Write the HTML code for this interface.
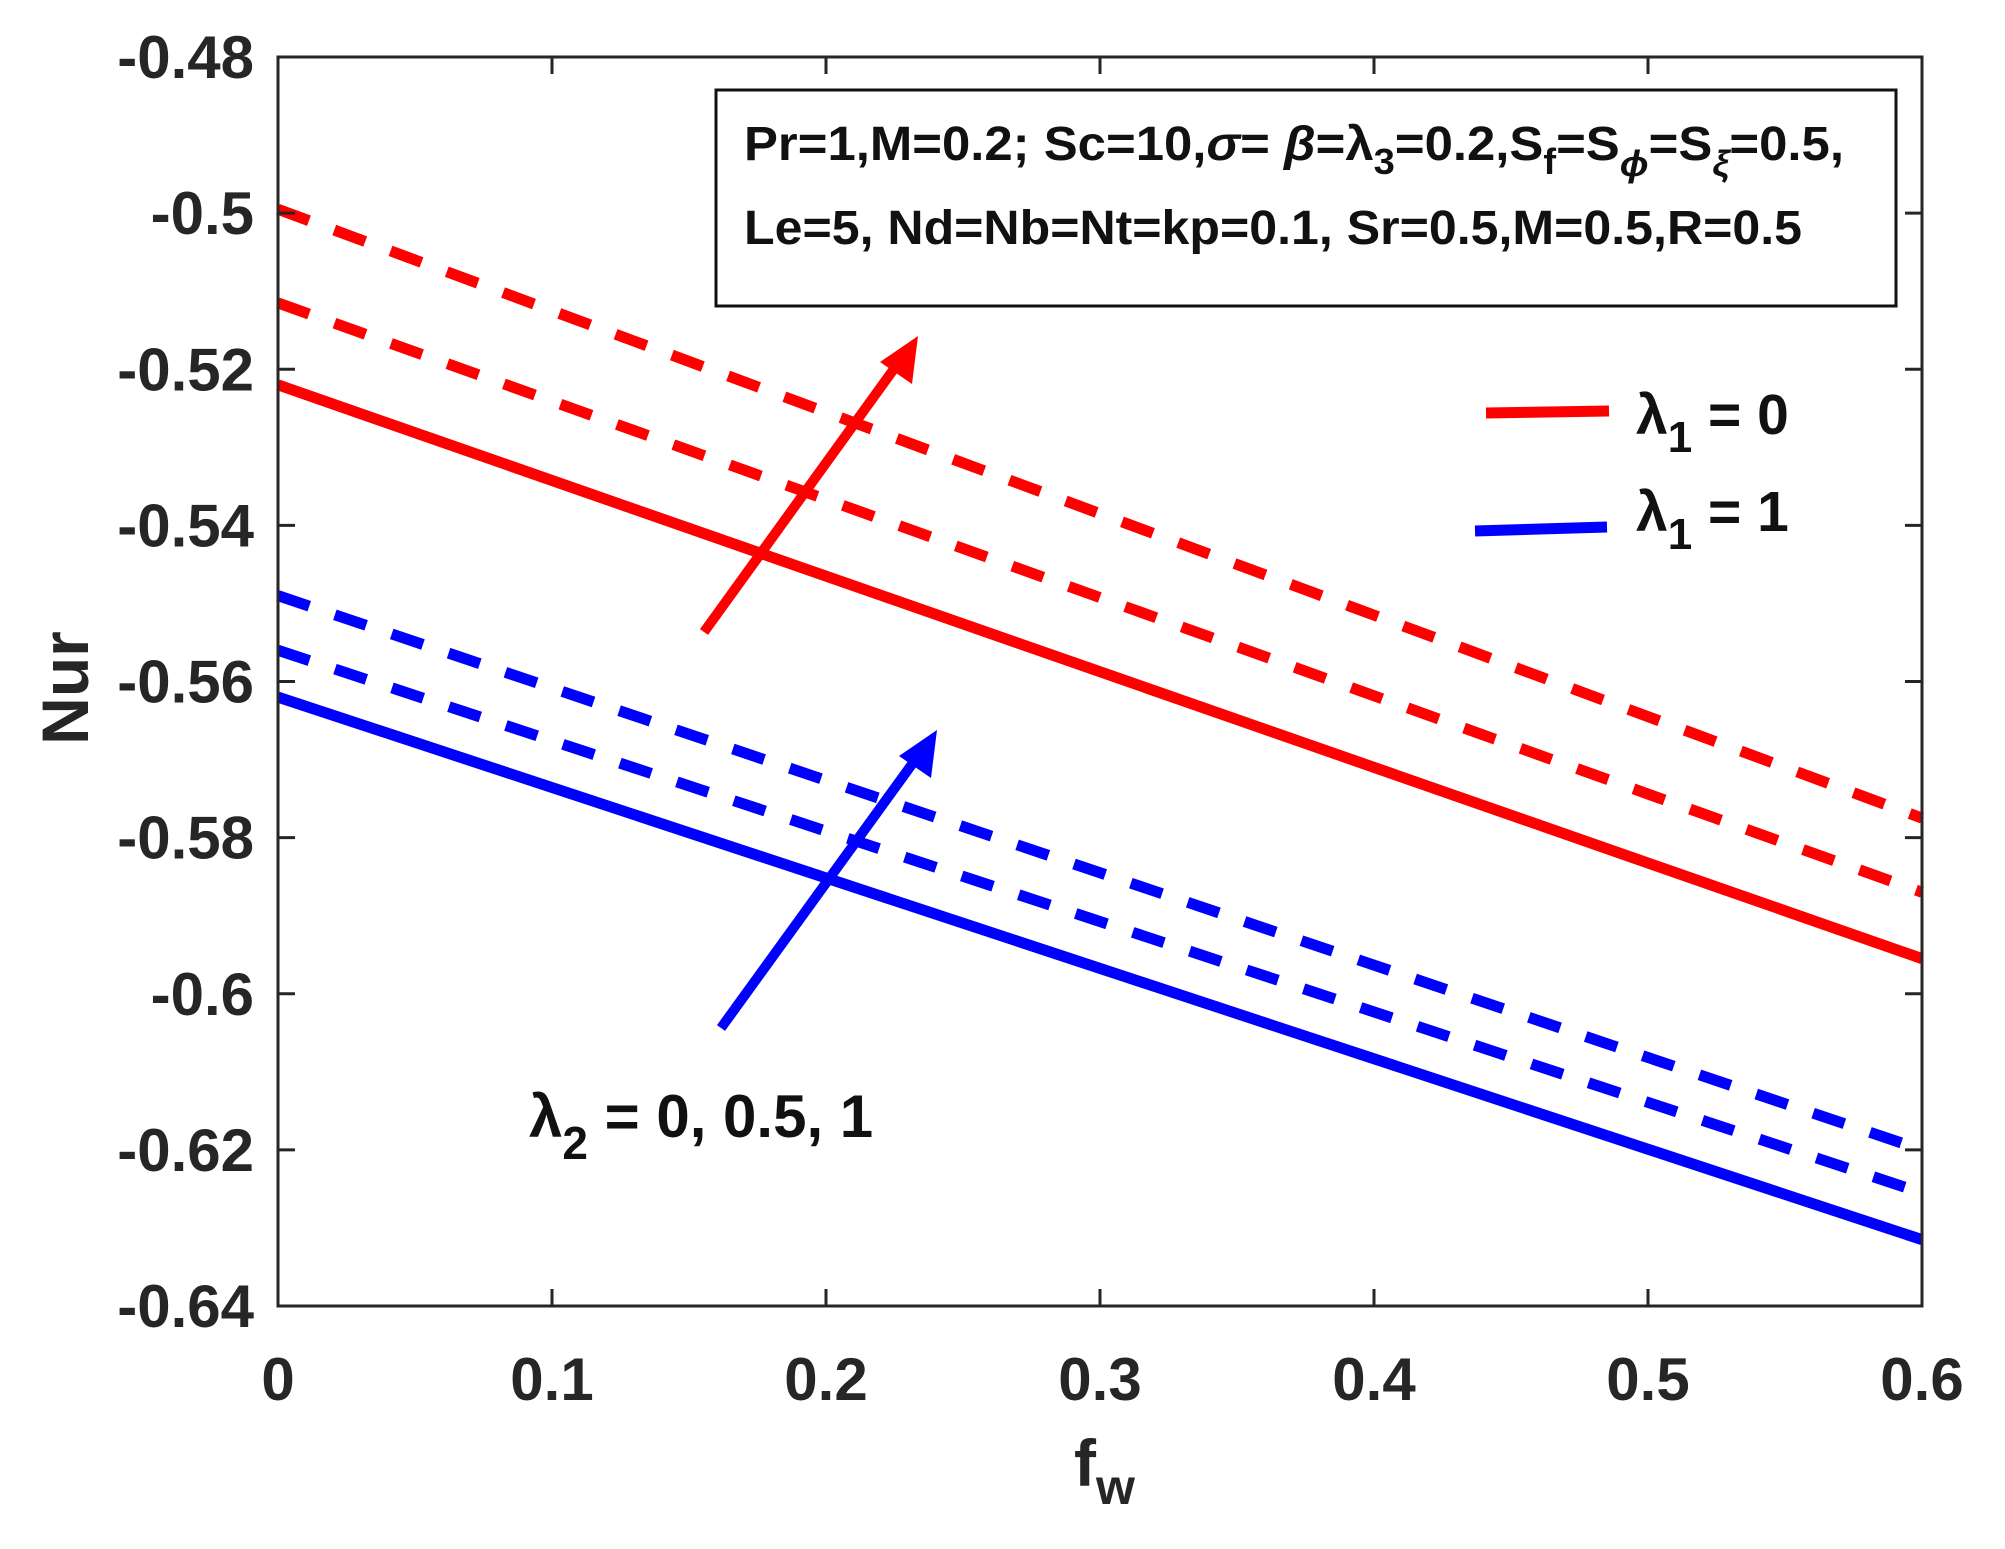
<!DOCTYPE html>
<html><head><meta charset="utf-8"><style>
html,body{margin:0;padding:0;background:#fff}
svg{display:block;font-family:"Liberation Sans",Arial,sans-serif;font-weight:bold}
</style></head><body>
<svg id="chart" width="2005" height="1549" viewBox="0 0 2005 1549" xmlns="http://www.w3.org/2000/svg">
<rect x="0" y="0" width="2005" height="1549" fill="#fff"/>
<g id="series"></g>
<g id="axes"></g>
<g id="annot">
  <rect x="716" y="90" width="1180" height="216" fill="#fff" stroke="#111" stroke-width="3"/>
  <text x="744" y="160" font-size="48" fill="#111" textLength="1100" lengthAdjust="spacingAndGlyphs">Pr=1,M=0.2; Sc=10,<tspan font-style="italic">σ</tspan>= <tspan font-style="italic">β</tspan>=λ<tspan font-size="36" dy="14">3</tspan><tspan dy="-14">=0.2,S</tspan><tspan font-size="36" dy="14">f</tspan><tspan dy="-14">=S</tspan><tspan font-size="36" dy="16" font-style="italic">ϕ</tspan><tspan dy="-16">=S</tspan><tspan font-size="36" dy="16" font-style="italic">ξ</tspan><tspan dy="-16">=0.5,</tspan></text>
  <text x="744" y="244" font-size="48" fill="#111" textLength="1058" lengthAdjust="spacingAndGlyphs">Le=5, Nd=Nb=Nt=kp=0.1, Sr=0.5,M=0.5,R=0.5</text>
  <line x1="1486" y1="413" x2="1609" y2="411" stroke="#ff0000" stroke-width="11"/>
  <text x="1636" y="434" font-size="57" fill="#111">λ<tspan font-size="44" dy="18">1</tspan><tspan dy="-18"> = 0</tspan></text>
  <line x1="1475" y1="531" x2="1607" y2="527" stroke="#0000ff" stroke-width="11"/>
  <text x="1636" y="531" font-size="57" fill="#111">λ<tspan font-size="44" dy="18">1</tspan><tspan dy="-18"> = 1</tspan></text>
  <line x1="704" y1="632" x2="904" y2="355" stroke="#ff0000" stroke-width="10"/>
  <polygon points="918,336 912,384 896,373 880,362" fill="#ff0000"/>
  <line x1="721" y1="1028" x2="923" y2="749" stroke="#0000ff" stroke-width="10"/>
  <polygon points="937,730 931,778 915,767 899,756" fill="#0000ff"/>
  <text x="529" y="1137" font-size="60" fill="#111">λ<tspan font-size="46" dy="22">2</tspan><tspan dy="-22"> = 0, 0.5, 1</tspan></text>
</g>
<script>
const xTicks = [0, 0.1, 0.2, 0.3, 0.4, 0.5, 0.6];
const xTickLabels = ["0", "0.1", "0.2", "0.3", "0.4", "0.5", "0.6"];
const yTicks = [-0.48, -0.5, -0.52, -0.54, -0.56, -0.58, -0.6, -0.62, -0.64];
const yTickLabels = ["-0.48", "-0.5", "-0.52", "-0.54", "-0.56", "-0.58", "-0.6", "-0.62", "-0.64"];
const fw = [0, 0.6];
const redDashTop = [-0.4995, -0.5775];
const redDashMid = [-0.5115, -0.5870];
const redSolid = [-0.5220, -0.5955];
const blueDashTop = [-0.5490, -0.6200];
const blueDashMid = [-0.5560, -0.6255];
const blueSolid = [-0.5620, -0.6315];

const L = 278, R = 1922, T = 57, B = 1306;
const xMin = 0, xMax = 0.6, yMin = -0.64, yMax = -0.48;
function sx(v) { return L + (v - xMin) / (xMax - xMin) * (R - L); }
function sy(v) { return B - (v - yMin) / (yMax - yMin) * (B - T); }
const NS = "http://www.w3.org/2000/svg";
const sg = document.getElementById('series');
const ag = document.getElementById('axes');

function drawSeries(vals, color, dashed, name) {
  const p = document.createElementNS(NS, 'polyline');
  p.setAttribute('points', fw.map((x, i) => sx(x) + ',' + sy(vals[i])).join(' '));
  p.setAttribute('fill', 'none');
  p.setAttribute('stroke', color);
  p.setAttribute('stroke-width', '11');
  if (dashed) p.setAttribute('stroke-dasharray', '33 27');
  
  
  sg.appendChild(p);
}
drawSeries(redDashTop, '#ff0000', true, 'line-red-lambda2-1');
drawSeries(redDashMid, '#ff0000', true, 'line-red-lambda2-0.5');
drawSeries(redSolid, '#ff0000', false, 'line-red-lambda2-0');
drawSeries(blueDashTop, '#0000ff', true, 'line-blue-lambda2-1');
drawSeries(blueDashMid, '#0000ff', true, 'line-blue-lambda2-0.5');
drawSeries(blueSolid, '#0000ff', false, 'line-blue-lambda2-0');

const frame = document.createElementNS(NS, 'rect');
frame.setAttribute('x', L); frame.setAttribute('y', T);
frame.setAttribute('width', R - L); frame.setAttribute('height', B - T);
frame.setAttribute('fill', 'none'); frame.setAttribute('stroke', '#262626'); frame.setAttribute('stroke-width', '3');


ag.appendChild(frame);

function mkLine(x1, y1, x2, y2, name) {
  const l = document.createElementNS(NS, 'line');
  l.setAttribute('x1', x1); l.setAttribute('y1', y1); l.setAttribute('x2', x2); l.setAttribute('y2', y2);
  l.setAttribute('stroke', '#262626'); l.setAttribute('stroke-width', '3');
  
  
  ag.appendChild(l);
}
function mkText(x, y, s, anchor, size, name) {
  const t = document.createElementNS(NS, 'text');
  t.setAttribute('x', x); t.setAttribute('y', y);
  t.setAttribute('text-anchor', anchor);
  t.setAttribute('font-size', size);
  t.setAttribute('fill', '#262626');
  t.textContent = s;
  
  
  ag.appendChild(t);
  return t;
}
xTicks.forEach((v, i) => {
  const x = sx(v);
  mkLine(x, B, x, B - 17, 'x-tick');
  mkLine(x, T, x, T + 17, 'x-tick-top');
  mkText(x, 1400, xTickLabels[i], 'middle', 60, 'x-tick-label');
});
yTicks.forEach((v, i) => {
  const y = sy(v);
  mkLine(L, y, L + 17, y, 'y-tick');
  mkLine(R, y, R - 17, y, 'y-tick-right');
  mkText(254, y + 21, yTickLabels[i], 'end', 60, 'y-tick-label');
});
const yt = mkText(0, 0, 'Nur', 'middle', 66, 'y-axis-title');
yt.setAttribute('transform', 'translate(88,688) rotate(-90)');
const xt = mkText(1074, 1486, 'f', 'start', 66, 'x-axis-title');
const sub = document.createElementNS(NS, 'tspan');
sub.setAttribute('font-size', '50'); sub.setAttribute('dy', '18');
sub.textContent = 'w';
xt.appendChild(sub);
</script>
</svg>
</body></html>
